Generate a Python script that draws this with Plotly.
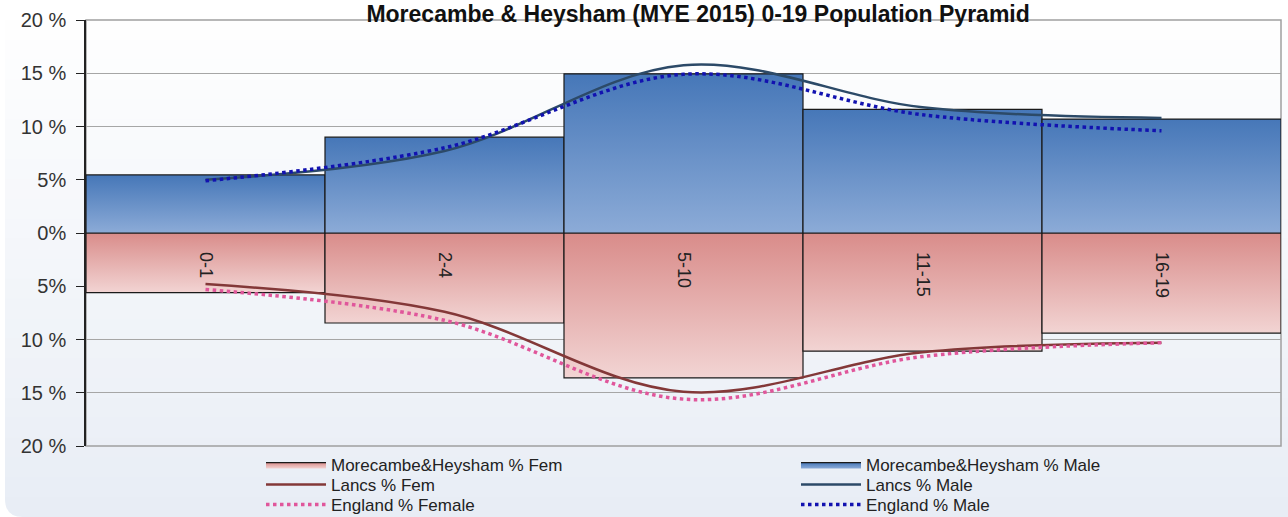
import plotly.graph_objects as go

# ---- data ----
age_groups = ["0-1", "2-4", "5-10", "11-15", "16-19"]
mh_male = [5.45, 9.0, 14.95, 11.6, 10.7]
mh_fem = [5.6, 8.45, 13.6, 11.1, 9.4]
lancs_male = [5.0, 7.7, 15.75, 11.8, 10.8]
lancs_fem = [4.8, 7.4, 14.9, 11.2, 10.3]
eng_male = [4.9, 8.0, 14.9, 11.1, 9.6]
eng_fem = [5.3, 8.2, 15.6, 11.6, 10.3]
y_ticks = [-20, -15, -10, -5, 0, 5, 10, 15, 20]
y_tick_labels = ["20 %", "15 %", "10 %", "5%", "0%", "5%", "10 %", "15 %", "20 %"]

W, H = 1288, 517
L, R, T, B = 86, 1281, 20, 446  # plot area in px


def px(xp):
    return (xp - L) / (R - L)


def py(yp):
    return (B - yp) / (B - T)


fig = go.Figure()
xs = list(range(len(age_groups)))


def add_bars(vals, sign, name, light, dark, legend):
    for i, v in enumerate(vals):
        x0, x1 = xs[i] - 0.5, xs[i] + 0.5
        yv = sign * v
        fig.add_trace(go.Scatter(
            x=[x0, x1, x1, x0, x0], y=[0, 0, yv, yv, 0],
            mode="lines", fill="toself",
            fillgradient=dict(type="vertical", colorscale=[[0, light], [1, dark]]),
            line=dict(color="#1a1a1a", width=1.2),
            name=name, legendgroup=name, showlegend=(i == 0), legend=legend,
            hoverinfo="skip"))


add_bars(mh_fem, -1, "Morecambe&Heysham % Fem", "#f2d4d3", "#d98c8a", "legend")
add_bars(mh_male, 1, "Morecambe&Heysham % Male", "#8cabd7", "#4677b8", "legend")

fig.add_trace(go.Scatter(x=xs, y=[-v for v in lancs_fem], mode="lines", name="Lancs % Fem",
                         line=dict(color="#833838", width=2.5, shape="spline", smoothing=1.0),
                         legend="legend2"))
fig.add_trace(go.Scatter(x=xs, y=lancs_male, mode="lines", name="Lancs % Male",
                         line=dict(color="#2c4a68", width=2.5, shape="spline", smoothing=1.0),
                         legend="legend2"))
fig.add_trace(go.Scatter(x=xs, y=[-v for v in eng_fem], mode="lines", name="England % Female",
                         line=dict(color="#e0569b", width=3.5, dash="dot", shape="spline", smoothing=1.0),
                         legend="legend3"))
fig.add_trace(go.Scatter(x=xs, y=eng_male, mode="lines", name="England % Male",
                         line=dict(color="#1212b0", width=3.5, dash="dot", shape="spline", smoothing=1.0),
                         legend="legend3"))

# ---- background gradient bands ----
shapes = []
N = 26
top_c = (255, 255, 255)
bot_c = (232, 237, 245)
for k in range(N):
    t = (k + 0.5) / N
    c = tuple(round(top_c[j] + (bot_c[j] - top_c[j]) * t) for j in range(3))
    y0p = H * k / N
    y1p = H * (k + 1) / N + 1
    shapes.append(dict(type="rect", xref="paper", yref="paper", layer="below",
                       x0=px(5), x1=px(W + 5), y0=py(y1p), y1=py(y0p),
                       line=dict(width=0), fillcolor="rgb(%d,%d,%d)" % c))
# rounded bottom-left corner mask
r = 18
shapes.append(dict(type="path", xref="paper", yref="paper", layer="below",
                   path="M %f,%f Q %f,%f %f,%f L %f,%f Z" % (
                       px(5), py(H - r), px(5), py(H), px(5 + r), py(H), px(5), py(H)),
                   fillcolor="white", line=dict(width=0)))
# plot frame (grey)
shapes.append(dict(type="rect", xref="paper", yref="paper", layer="below",
                   x0=0, x1=1, y0=0, y1=1, line=dict(color="#a0a0a0", width=1.5)))

font = "Liberation Sans, Arial, sans-serif"

fig.update_layout(
    width=W, height=H,
    margin=dict(l=L, r=W - R, t=T, b=H - B, autoexpand=False),
    paper_bgcolor="white", plot_bgcolor="rgba(0,0,0,0)",
    shapes=shapes,
    title=dict(text="<b>Morecambe & Heysham (MYE 2015) 0-19 Population Pyramid</b>",
               x=0.542, xanchor="center", xref="container",
               y=1 - 22 / H, yanchor="bottom", yref="container",
               font=dict(family=font, size=23, color="#111111")),
    xaxis=dict(range=[-0.5, 4.5], tickvals=xs, ticktext=age_groups, tickangle=90,
               anchor="free", position=0.5, showgrid=False, zeroline=False, showline=False,
               ticks="", ticklabelstandoff=18,
               tickfont=dict(family=font, size=18, color="#222222")),
    yaxis=dict(range=[-20, 20], tickvals=y_ticks, ticktext=y_tick_labels,
               showgrid=True, gridcolor="#a6a6a6", gridwidth=1.2, zeroline=False,
               showline=True, linecolor="#222222", linewidth=1.5,
               ticks="outside", ticklen=8, tickcolor="#222222", tickwidth=1.2,
               ticklabelstandoff=6,
               tickfont=dict(family=font, size=20, color="#333333")),
    showlegend=True,
)

leg_common = dict(orientation="h", xanchor="left", yanchor="middle", x=px(261),
                  bgcolor="rgba(0,0,0,0)", itemwidth=60, entrywidth=460,
                  font=dict(family=font, size=17, color="#222222"),
                  itemclick=False, itemdoubleclick=False)
fig.update_layout(
    legend=dict(leg_common, y=py(465)),
    legend2=dict(leg_common, y=py(485)),
    legend3=dict(leg_common, y=py(505)),
)

fig.write_html("out.html", config={"displayModeBar": False},
               post_script="document.body.style.margin='0px';")
